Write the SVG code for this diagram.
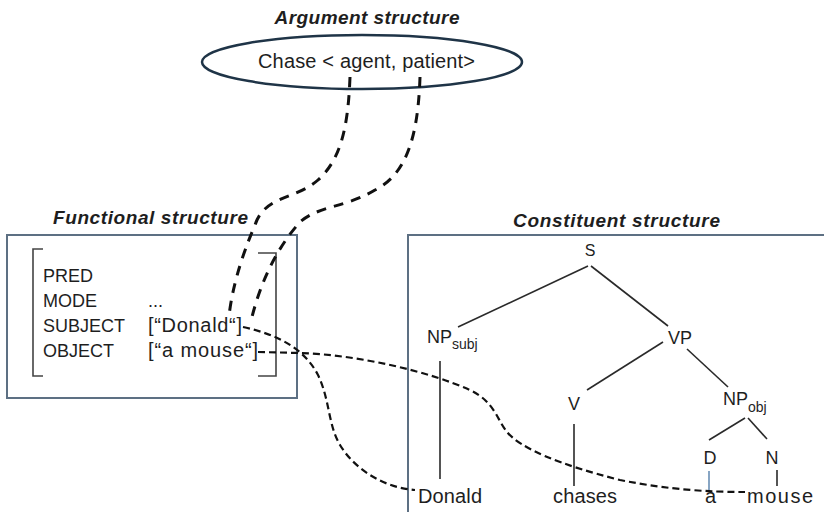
<svg xmlns="http://www.w3.org/2000/svg" width="824" height="512" viewBox="0 0 824 512">
<style>
text{font-family:"Liberation Sans",Arial,sans-serif;fill:#1e1e1e}
.title{font-weight:bold;font-style:italic;font-size:19px}
.t{font-size:18px}
.lc{font-size:20px}
.leaf{font-size:20px}
.sub{font-size:14px}
.box{fill:none;stroke:#5d7083;stroke-width:2}
.br{fill:none;stroke:#444;stroke-width:1.6}
.tree{fill:none;stroke:#2a2a2a;stroke-width:1.6}
.big{fill:none;stroke:#111;stroke-width:3;stroke-dasharray:10 8}
.small{fill:none;stroke:#111;stroke-width:2.2;stroke-dasharray:7 4}
</style>
<rect width="824" height="512" fill="#fff"/>

<g id="argument-structure">
<text class="title" x="367" y="24" text-anchor="middle" textLength="185">Argument structure</text>
<ellipse cx="362" cy="62" rx="160" ry="27" fill="none" stroke="#1f3447" stroke-width="2.5"/>
<text class="lc" x="258" y="68" textLength="217">Chase &lt; agent, patient&gt;</text>
</g>

<g id="functional-structure">
<text class="title" x="53" y="224" textLength="195">Functional structure</text>
<rect class="box" x="7" y="235" width="290" height="163"/>
<path class="br" d="M43,249 H33 V376 H43"/>
<path class="br" d="M258,253 H276 V376 H258"/>
<text class="t" x="43" y="282">PRED</text>
<text class="t" x="43" y="307">MODE</text>
<text class="t" x="43" y="332">SUBJECT</text>
<text class="t" x="43" y="357">OBJECT</text>
<text class="t" x="148" y="307">...</text>
<text class="lc" x="148" y="332" textLength="94">[“Donald“]</text>
<text class="lc" x="148" y="357" textLength="110">[“a mouse“]</text>
</g>

<g id="constituent-structure">
<text class="title" x="513" y="227" textLength="207">Constituent structure</text>
<rect class="box" x="408" y="235" width="440" height="300"/>
</g>

<g id="node-S"><text x="590" y="256" font-size="16" text-anchor="middle">S</text></g>
<g id="node-NPsubj"><text class="t" x="427" y="343">NP<tspan class="sub" dy="6">subj</tspan></text></g>
<g id="node-VP"><text class="t" x="668" y="344">VP</text></g>
<g id="node-V"><text class="t" x="574" y="410" text-anchor="middle">V</text></g>
<g id="node-NPobj"><text class="t" x="723" y="405">NP<tspan class="sub" dy="7">obj</tspan></text></g>
<g id="node-D"><text class="t" x="710" y="464" text-anchor="middle">D</text></g>
<g id="node-N"><text class="t" x="772" y="464" text-anchor="middle">N</text></g>
<g id="leaf-Donald"><text class="leaf" x="418" y="503" textLength="64">Donald</text></g>
<g id="leaf-chases"><text class="leaf" x="553" y="503" textLength="64">chases</text></g>
<g id="leaf-a"><text class="leaf" x="705" y="503">a</text></g>
<g id="leaf-mouse"><text class="leaf" x="747" y="503" textLength="66">mouse</text></g>

<g id="connectors">
<line class="tree" x1="588" y1="266" x2="458" y2="327"/>
<line class="tree" x1="591" y1="266" x2="668" y2="326"/>
<line class="tree" x1="663" y1="342" x2="587" y2="390"/>
<line class="tree" x1="687" y1="349" x2="728" y2="387"/>
<line class="tree" x1="440" y1="361" x2="440" y2="479"/>
<line class="tree" x1="574" y1="424" x2="574" y2="486"/>
<line class="tree" x1="745" y1="418" x2="709" y2="440"/>
<line class="tree" x1="748" y1="418" x2="767" y2="439"/>
<line x1="709" y1="471" x2="709" y2="492" stroke="#6a8fb5" stroke-width="1.6"/>
<line class="tree" x1="777" y1="470" x2="777" y2="486"/>

<path class="big" d="M350,77 C348,130 340,160 318,180 C295,200 265,195 255,225 C240,260 232,290 229,316"/>
<path class="big" d="M420,77 C418,140 405,175 375,190 C345,208 320,205 300,222 C275,250 260,285 252,317"/>
<path class="small" d="M243,327 C280,335 305,350 318,375 C330,400 328,425 340,445 C355,470 385,488 415,490"/>
<path class="small" d="M258,352 L300,353 C360,355 430,372 470,390 C495,402 497,420 507,432 C520,448 560,465 620,480 C670,490 710,492 745,492"/>
</g>
</svg>
